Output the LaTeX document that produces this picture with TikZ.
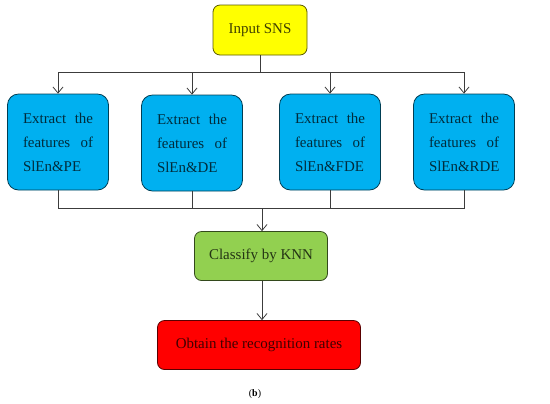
\documentclass[tikz,border=0pt]{standalone}
\usepackage{fontspec}
\setmainfont{Liberation Serif}
\usetikzlibrary{arrows.meta, positioning}

\definecolor{snsyellow}{RGB}{255,255,0}
\definecolor{featblue}{RGB}{0,176,240}
\definecolor{knngreen}{RGB}{146,208,80}
\definecolor{ratered}{RGB}{255,0,0}
\definecolor{lineclr}{RGB}{60,60,60}

\tikzset{
  stagebox/.style={draw=#1!35!black, fill=#1, text=#1!25!black, thick,
    rounded corners=7bp, inner sep=0pt, align=center,
    font=\fontsize{15}{24}\selectfont},
  featbox/.style={stagebox=featblue, rounded corners=11bp,
    minimum width=101bp, minimum height=96bp, text width=70bp, align=justify},
  flow/.style={lineclr, thick, -{Straight Barb[length=6bp, width=10bp]}}
}

\begin{document}
\begin{tikzpicture}[x=1bp, y=-1bp]
\useasboundingbox (0,0) rectangle (550,403);

% input
\node[stagebox=snsyellow, minimum width=94bp, minimum height=50bp] (input) at (260,30) {Input SNS};

% feature extraction
\node[featbox] (pe) at (58,142) {Extract\hfill the\linebreak features\hfill of\linebreak SlEn\&PE};
\node[featbox] (de) at (192,143) {Extract\hfill the\linebreak features\hfill of\linebreak SlEn\&DE};
\node[featbox] (fde) at (330,142) {Extract\hfill the\linebreak features\hfill of\linebreak SlEn\&FDE};
\node[featbox] (rde) at (464,142) {Extract\hfill the\linebreak features\hfill of\linebreak SlEn\&RDE};

% split and join points
\coordinate (split) at (260,72);
\coordinate (join) at (262,208);

\draw[lineclr, thick] (input) -- (split);
\foreach \f in {pe,de,fde,rde}
  \draw[flow] (split) -| (\f.north);
\foreach \f in {pe,de,fde,rde}
  \draw[lineclr, thick] (\f.south) |- (join);

% classification
\node[stagebox=knngreen, minimum width=133bp, minimum height=49bp] (knn) at (261,256) {Classify by KNN};
\draw[flow] (join) -- (join |- knn.north);

% result
\node[stagebox=ratered, minimum width=203bp, minimum height=49bp] (rates) at (259,345) {Obtain the recognition rates};
\draw[flow] (knn.south -| join) -- (join |- rates.north);

\node[font=\fontsize{10}{12}\selectfont] (caption) at (255,394) {(\textbf{b})};

\end{tikzpicture}
\end{document}
